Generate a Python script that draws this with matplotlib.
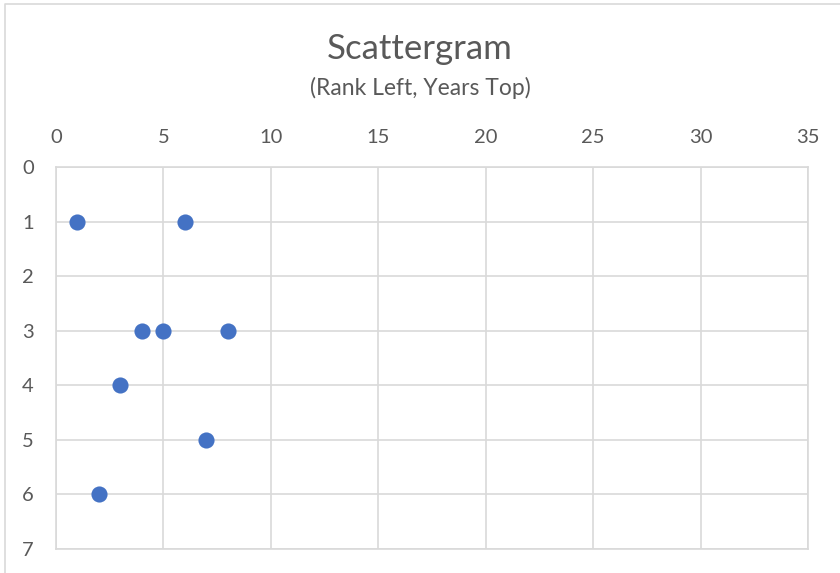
import matplotlib
matplotlib.use("Agg")
import matplotlib.pyplot as plt
from matplotlib.lines import Line2D

years = [1, 6, 4, 5, 8, 3, 7, 2]
ranks = [1, 1, 3, 3, 3, 4, 5, 6]
x_ticks = [0, 5, 10, 15, 20, 25, 30, 35]
y_ticks = [0, 1, 2, 3, 4, 5, 6, 7]
title = "Scattergram"
subtitle = "(Rank Left, Years Top)"

plt.rcParams['font.family'] = ['Lato', 'DejaVu Sans']
fig = plt.figure(figsize=(8.4, 5.73), dpi=100)
fig.patch.set_facecolor('white')
# outer chart border (only left and top visible in the reference crop)
fig.add_artist(Line2D([4.5/840, 4.5/840, 1.0], [0.0, 1 - 3.5/573, 1 - 3.5/573],
                      transform=fig.transFigure, color='#d9d9d9', linewidth=1.2))

ax = fig.add_axes([56/840, 1 - 549/573, (808 - 56)/840, (549 - 167)/573])
ax.scatter(years, ranks, s=135, color='#4472C4', zorder=3, clip_on=False, linewidths=0)
ax.set_xlim(0, 35)
ax.set_ylim(7, 0)
ax.set_xticks(x_ticks)
ax.set_yticks(y_ticks)
ax.xaxis.tick_top()
ax.grid(True, color='#d9d9d9', linewidth=1.2)
ax.set_axisbelow(True)
for s in ax.spines.values():
    s.set_color('#d9d9d9')
    s.set_linewidth(1.2)
ax.tick_params(length=0, labelsize=14.5, colors='#595959')
ax.tick_params(axis='x', pad=15)
ax.tick_params(axis='y', pad=16)
fig.text(0.5, 1 - 59/573, title, ha='center', va='baseline', fontsize=25, color='#595959')
fig.text(0.5, 1 - 95/573, subtitle, ha='center', va='baseline', fontsize=16.5, color='#595959')
fig.savefig('out.png', dpi=100)
